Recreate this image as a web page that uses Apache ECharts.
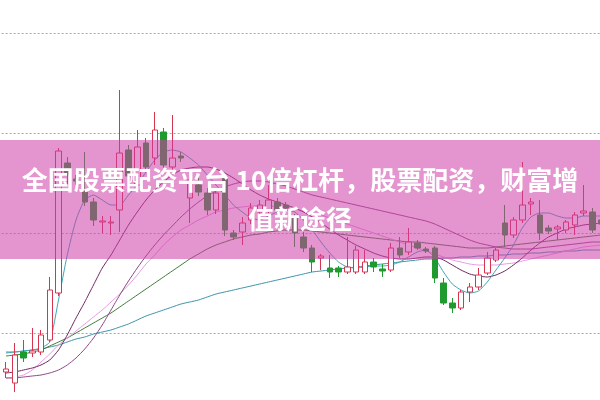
<!DOCTYPE html>
<html>
<head>
<meta charset="utf-8">
<script src="https://cdn.jsdelivr.net/npm/echarts@6/dist/echarts.min.js"></script>
<style>html,body{margin:0;padding:0;background:#fff;}#c{width:600px;height:400px;}</style>
</head>
<body>
<div id="c"></div>
<script>
// 69 trading days (hidden axis)
const categories = Array.from({length: 69}, (_, i) => 'D' + (i + 1));

// [open, close, low, high]
const candles = [
[6.1,6.4,5.5,7.1],[5.0,7.8,4.1,9.0],[8.1,7.5,7.1,9.3],[8.0,8.2,7.6,10.5],[8.1,9.8,7.8,10.3],
[9.3,14.3,9.1,15.6],[14.0,28.2,13.7,28.5],[27.0,25.8,24.8,27.6],[25.4,25.2,24.8,25.8],[24.1,23.1,22.7,28.1],
[23.1,21.3,20.7,23.5],[21.1,21.2,20.0,21.7],[21.0,21.1,19.8,21.7],[22.3,28.0,20.1,34.3],[28.3,25.7,25.3,28.8],
[24.8,28.6,24.3,30.3],[29.0,26.6,26.1,29.5],[27.5,30.3,26.8,32.1],[30.1,26.8,26.5,30.5],[26.6,27.5,26.1,31.8],
[27.7,27.5,27.1,28.1],[23.5,25.3,21.0,25.8],[24.8,24.1,23.7,25.5],[24.0,22.3,21.8,24.5],[22.3,24.0,21.9,24.5],
[25.6,20.3,19.7,26.1],[20.0,19.6,19.3,20.3],[20.1,21.0,18.8,21.6],[21.3,22.5,20.9,23.0],[22.1,22.8,21.8,23.3],
[22.3,23.3,22.0,24.8],[23.1,22.3,21.9,23.5],[22.8,22.5,22.2,23.1],[21.5,20.0,18.6,21.9],[19.6,18.5,18.1,20.1],
[18.5,17.1,16.1,18.8],[17.5,17.7,16.3,17.9],[16.5,16.1,15.5,17.8],[16.5,16.1,15.6,16.7],[16.1,16.6,15.9,19.6],
[16.1,18.3,15.9,18.7],[16.1,17.1,15.9,18.3],[17.1,16.6,16.1,17.5],[16.4,16.2,15.6,16.9],[16.3,18.5,16.1,19.0],
[18.5,17.8,17.5,19.6],[18.1,19.1,17.8,20.5],[19.0,18.5,18.3,19.3],[18.4,18.2,18.0,18.6],[18.5,15.5,15.0,18.7],
[15.0,13.0,12.8,15.5],[13.0,12.5,12.0,13.5],[12.5,14.1,12.3,14.3],[14.1,14.6,13.1,15.0],[14.6,15.8,14.3,16.5],
[16.0,17.5,15.8,18.1],[17.3,18.3,17.1,18.5],[21.0,19.8,18.6,22.8],[19.8,21.3,19.5,21.6],[21.3,22.8,21.0,27.1],
[22.9,23.1,21.8,23.5],[21.8,20.0,19.3,23.3],[20.5,20.2,19.9,20.8],[20.4,20.6,19.3,20.8],[20.3,21.1,20.0,21.3],
[20.8,21.8,19.8,22.1],[22.0,22.2,21.7,24.8],[22.1,20.3,20.0,22.5],[21.3,20.9,20.5,21.8]
];

const ma5 = [8.0,8.1,8.2,8.3,8.5,9.1,13.3,17.8,21.3,23.3,23.8,23.3,22.8,22.8,23.8,24.8,26.1,27.3,28.1,28.3,28.1,27.5,26.8,25.8,24.8,23.8,22.8,22.1,21.5,21.3,21.7,22.1,22.3,22.1,21.3,20.3,19.1,18.0,17.1,16.6,16.5,16.6,16.7,16.7,16.8,17.1,17.6,18.1,18.3,17.5,16.1,14.9,14.3,14.0,14.2,15.1,16.3,17.5,18.8,20.5,21.6,22.0,22.0,21.7,21.5,21.5,21.7,21.7,21.7];
const ma10 = [6.0,6.1,6.3,6.5,6.8,7.3,8.3,9.8,11.5,13.1,14.8,16.5,17.8,19.3,20.8,22.1,23.3,24.3,25.1,25.8,26.3,26.5,26.6,26.6,26.4,26.0,25.5,24.9,24.3,23.8,23.4,23.1,22.8,22.5,22.1,21.6,21.0,20.4,19.8,19.3,18.8,18.4,18.0,17.7,17.5,17.4,17.4,17.5,17.6,17.6,17.3,16.8,16.3,15.9,15.7,15.6,15.8,16.2,16.8,17.5,18.3,19.0,19.6,20.0,20.4,20.6,20.8,20.9,21.0];
const ma20 = [5.5,5.5,5.6,5.7,5.8,6.0,6.3,6.8,7.5,8.4,9.5,10.8,12.3,13.8,15.2,16.5,17.7,18.8,19.8,20.7,21.6,22.4,23.1,23.7,24.2,24.6,24.9,25.1,25.2,25.2,25.1,24.9,24.7,24.4,24.1,23.8,23.6,23.4,23.2,23.0,22.8,22.6,22.4,22.2,22.0,21.8,21.6,21.4,21.2,20.9,20.5,20.1,19.7,19.3,19.0,18.8,18.6,18.5,18.4,18.4,18.4,18.5,18.6,18.7,18.8,18.9,19.0,19.1,19.1];
const ma30 = [5.5,5.6,5.8,6.3,7.1,7.9,8.8,9.5,10.2,10.9,11.6,12.3,13.1,13.9,14.8,15.8,16.9,17.8,18.8,19.6,20.3,20.8,21.3,21.7,22.1,22.3,22.5,22.6,22.7,22.7,22.7,22.6,22.5,22.4,22.2,22.0,21.8,21.5,21.2,20.9,20.6,20.3,20.0,19.7,19.4,19.1,18.8,18.5,18.2,17.9,17.6,17.3,17.1,16.9,16.8,16.8,16.8,16.9,17.0,17.2,17.4,17.6,17.8,18.0,18.2,18.4,18.6,18.7,18.8];
const ma60 = [7.7,7.8,7.9,8.1,8.3,8.7,9.1,9.5,10.0,10.5,11.0,11.5,12.0,12.6,13.2,13.8,14.4,15.0,15.6,16.2,16.8,17.4,17.9,18.4,18.8,19.1,19.4,19.6,19.8,19.9,20.1,20.2,20.3,20.3,20.3,20.2,20.1,20.0,19.9,19.8,19.7,19.6,19.5,19.4,19.3,19.2,19.1,19.1,19.0,18.9,18.8,18.7,18.6,18.5,18.5,18.5,18.6,18.7,18.8,18.9,19.0,19.1,19.2,19.3,19.4,19.5,19.6,19.7,19.8];
const ma120 = [8.1,8.1,8.2,8.3,8.4,8.6,8.8,9.1,9.4,9.6,9.9,10.1,10.3,10.6,10.9,11.3,11.7,12.0,12.3,12.6,12.9,13.1,13.3,13.6,13.9,14.1,14.3,14.5,14.7,14.9,15.1,15.3,15.5,15.7,15.9,16.1,16.2,16.3,16.4,16.5,16.6,16.7,16.8,16.9,17.0,17.1,17.2,17.3,17.4,17.4,17.5,17.5,17.6,17.6,17.7,17.7,17.8,17.8,17.9,17.9,18.0,18.0,18.1,18.1,18.2,18.2,18.3,18.3,18.3];

const yTicks = [0, 10, 20, 30, 40];
const bannerLines = ['全国股票配资平台 10倍杠杆，股票配资，财富增', '值新途径'];

const chart = echarts.init(document.getElementById('c'), null, {renderer: 'canvas'});
function maSeries(name, data, color) {
  return {name, type: 'line', data, symbol: 'none', smooth: 0.2,
    lineStyle: {color, width: 1}, z: 3, silent: true};
}
chart.setOption({
  animation: false,
  backgroundColor: '#ffffff',
  grid: {left: 1.625, top: 33, width: 603.75, height: 400, containLabel: false, outerBoundsMode: 'none'},
  xAxis: {type: 'category', data: categories, boundaryGap: true,
    axisLine: {show: false}, axisTick: {show: false}, axisLabel: {show: false}, splitLine: {show: false}},
  yAxis: {type: 'value', min: yTicks[0], max: yTicks[yTicks.length - 1], interval: 10,
    axisLine: {show: false}, axisTick: {show: false}, axisLabel: {show: false},
    splitLine: {show: true, lineStyle: {color: '#a8a8a8', type: [2, 2], width: 1}}},
  series: [
    maSeries('MA120', ma120, '#3a94a6'),
    maSeries('MA60', ma60, '#3d7a36'),
    maSeries('MA30', ma30, '#e899e2'),
    maSeries('MA20', ma20, '#8b4a86'),
    maSeries('MA10', ma10, '#6e2a5f'),
    maSeries('MA5', ma5, '#3fa6b6'),
    {type: 'candlestick', data: candles, barWidth: 6, z: 4,
      itemStyle: {color: '#ffffff', color0: '#1f9a2f', borderColor: '#d6344f', borderColor0: '#1f9a2f', borderWidth: 1}}
  ],
  graphic: [
    {type: 'rect', z: 100, shape: {x: 0, y: 140, width: 600, height: 119},
      style: {fill: 'rgba(205,60,165,0.55)'}},
    {type: 'text', z: 101, left: 'center', top: 161,
      style: {text: bannerLines.join('\n'), fill: '#ffffff', textAlign: 'center',
        font: 'bold 26px "Noto Sans CJK SC", sans-serif', lineHeight: 39}}
  ]
});
</script>
</body>
</html>
